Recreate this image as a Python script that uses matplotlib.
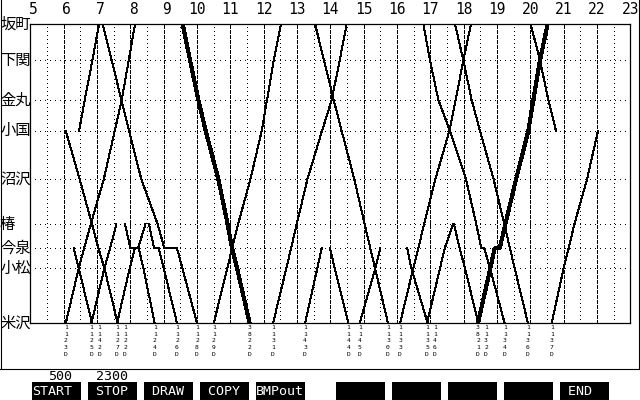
import numpy as np
import matplotlib
matplotlib.use("Agg")
import matplotlib.pyplot as plt
from matplotlib.patches import Rectangle
from matplotlib.transforms import blended_transform_factory as blend

# stations, bottom (米沢) to top (坂町), position in km along the line
stations = ["米沢", "小松", "今泉", "椿", "沼沢", "小国", "金丸", "下関", "坂町"]
station_km = [0.0, 16.7, 22.7, 30.0, 43.6, 58.3, 67.7, 79.7, 90.7]

hours = list(range(5, 24))

UP = ["米沢", "小松", "今泉", "椿", "沼沢", "小国", "金丸", "下関", "坂町"]
DOWN = UP[::-1]

# (train number, stations passed, times in hours)
trains = [
    ("", ["小国", "金丸", "下関", "坂町"], [6.46, 6.63, 6.86, 7.06]),
    ("1122D", ["小国", "沼沢", "椿", "今泉", "小松", "米沢"], [6.06, 6.48, 6.85, 7.04, 7.22, 7.62]),
    ("1123D", UP, [6.06, 6.45, 6.61, 6.81, 7.20, 7.53, 7.74, 7.95, 8.14]),
    ("1142D", ["今泉", "小松", "米沢"], [6.30, 6.45, 6.85]),
    ("1125D", ["米沢", "小松", "今泉", "椿"], [6.83, 7.22, 7.39, 7.58]),
    ("1124D", ["椿", "今泉", "今泉", "小松", "米沢"], [7.84, 8.00, 8.25, 8.39, 8.73]),
    ("1127D", ["米沢", "小松", "今泉", "今泉", "椿"], [7.60, 7.98, 8.13, 8.23, 8.45]),
    ("1126D", ["椿", "今泉", "今泉", "小松", "米沢"], [8.56, 8.71, 8.85, 9.00, 9.40]),
    ("1128D", ["坂町", "下関", "金丸", "小国", "沼沢", "椿", "今泉", "今泉", "小松", "米沢"],
     [7.17, 7.44, 7.73, 7.96, 8.33, 8.82, 9.02, 9.40, 9.56, 10.00]),
    ("3822D", DOWN, [9.57, 9.79, 10.04, 10.26, 10.64, 10.92, 11.05, 11.20, 11.58]),
    ("1129D", UP, [10.50, 10.91, 11.05, 11.23, 11.60, 11.94, 12.10, 12.30, 12.52]),
    ("1131D", UP, [12.28, 12.68, 12.82, 12.99, 13.31, 13.75, 14.04, 14.28, 14.49]),
    ("1143D", ["米沢", "小松", "今泉"], [13.24, 13.61, 13.74]),
    ("1144D", ["今泉", "小松", "米沢"], [13.99, 14.13, 14.54]),
    ("1130D", DOWN, [13.54, 13.81, 14.10, 14.34, 14.72, 15.03, 15.20, 15.34, 15.73]),
    ("1145D", ["米沢", "小松", "今泉"], [14.88, 15.35, 15.50]),
    ("1133D", UP, [16.09, 16.49, 16.64, 16.81, 17.15, 17.57, 17.76, 17.99, 18.22]),
    ("1146D", ["今泉", "小松", "米沢"], [16.31, 16.43, 16.92]),
    ("1135D", ["米沢", "小松", "今泉", "椿"], [16.90, 17.29, 17.43, 17.68]),
    ("1132D", ["椿", "今泉", "小松", "米沢"], [17.71, 17.88, 18.04, 18.44]),
    ("1134D", ["坂町", "下関", "金丸", "小国", "沼沢", "椿", "今泉", "今泉", "小松", "米沢"],
     [16.79, 16.99, 17.24, 17.59, 18.07, 18.38, 18.53, 18.62, 18.79, 19.23]),
    ("3821D", ["米沢", "小松", "今泉", "今泉", "椿", "沼沢", "小国", "金丸", "下関", "坂町"],
     [18.43, 18.80, 18.93, 19.08, 19.25, 19.57, 19.94, 20.09, 20.29, 20.52]),
    ("1136D", DOWN, [17.74, 17.99, 18.24, 18.49, 18.90, 19.22, 19.39, 19.53, 19.93]),
    ("", ["坂町", "下関", "金丸", "小国"], [20.01, 20.29, 20.54, 20.77]),
    ("1137D", ["米沢", "小松", "今泉", "椿", "沼沢", "小国"], [20.64, 21.00, 21.15, 21.32, 21.70, 22.03]),
]
heavy_trains = ["3822D", "3821D"]

start_value = "500"
stop_value = "2300"
buttons = ["START", " STOP", " DRAW", " COPY", "BMPout", "", "", "", "", " END"]

plt.rcParams['font.family'] = ['Noto Sans CJK JP', 'DejaVu Sans']
MONO = 'DejaVu Sans Mono'

W, H = 640, 400
fig = plt.figure(figsize=(W / 100, H / 100), dpi=100)
ax = fig.add_axes([30.4 / W, (H - 323.3) / H, 599.9 / W, 299.3 / H])
ax.set_xlim(hours[0], hours[-1])
ax.set_ylim(station_km[0], station_km[-1])
ax.set_xticks([])
ax.set_yticks([])
for sp in ax.spines.values():
    sp.set_linewidth(0.9)
    sp.set_color('black')

ov = fig.add_axes([0, 0, 1, 1], facecolor='none')
ov.set_xlim(0, W)
ov.set_ylim(H, 0)
ov.axis('off')

# grid: hours dashed, half hours and stations dotted
for h in hours[1:-1]:
    ax.axvline(h, color='k', lw=0.72, ls=(0, (3, 2)), antialiased=False, zorder=1)
for h in np.array(hours[:-1]) + 0.5:
    ax.axvline(h, color='k', lw=0.72, ls=(0, (1, 4)), antialiased=False, zorder=1)
for km in station_km[1:-1]:
    ax.axhline(km, color='k', lw=0.72, ls=(0, (1, 5)), antialiased=False, zorder=1)

km_of = dict(zip(stations, station_km))
for name, stops, times in trains:
    lw = 2.2 if name in heavy_trains else 0.72
    ax.plot(times, [km_of[s] for s in stops], color='k', lw=lw,
            antialiased=False, zorder=3)

# station names
for s, km in zip(stations, station_km):
    ov.text(0, km, s, transform=blend(ov.transData, ax.transData),
            ha='left', va='center', fontsize=11, color='k')

# hour labels across the top
for h in hours:
    xh = h + (0.09 if h < 10 else 0)
    ov.text(xh, 9, str(h), transform=blend(ax.transData, ov.transData),
            ha='center', va='center', fontsize=10.5, family=MONO, color='k')

# train numbers under 米沢, one character per row, nudged right when crowded
events = []
for name, stops, times in trains:
    if not name:
        continue
    if stops[0] == "米沢":
        events.append((times[0], name))
    elif stops[-1] == "米沢":
        events.append((times[-1], name))
events.sort()

gap = 8 * (hours[-1] - hours[0]) / 600.0
prev = -1e9
for t, name in events:
    xl = max(t, prev + gap)
    prev = xl
    for k, ch in enumerate(name):
        ov.text(xl, 327.8 + 6.6 * k, ch, transform=blend(ax.transData, ov.transData),
                ha='center', va='center', fontsize=4.6, family=MONO, color='k')

# outer frame
ov.plot([0.5, 0.5], [0, 369], color='k', lw=0.8)
ov.plot([638.5, 638.5], [0, 369], color='k', lw=0.8)
ov.plot([0, 639], [369, 369], color='k', lw=0.8)

# function key bar
for i, lab in enumerate(buttons):
    x0 = 32 + 56 * i if i < 5 else 336 + 56 * (i - 5)
    ov.add_patch(Rectangle((x0, 382), 49, 18, facecolor='k', edgecolor='none'))
    if lab.strip():
        ov.text(x0, 391.5, lab, ha='left', va='center', fontsize=9.6,
                family=MONO, color='white')

ov.text(72, 376, start_value, ha='right', va='center', fontsize=9.6, family=MONO, color='k')
ov.text(128, 376, stop_value, ha='right', va='center', fontsize=9.6, family=MONO, color='k')

fig.savefig("out.png", dpi=100)
